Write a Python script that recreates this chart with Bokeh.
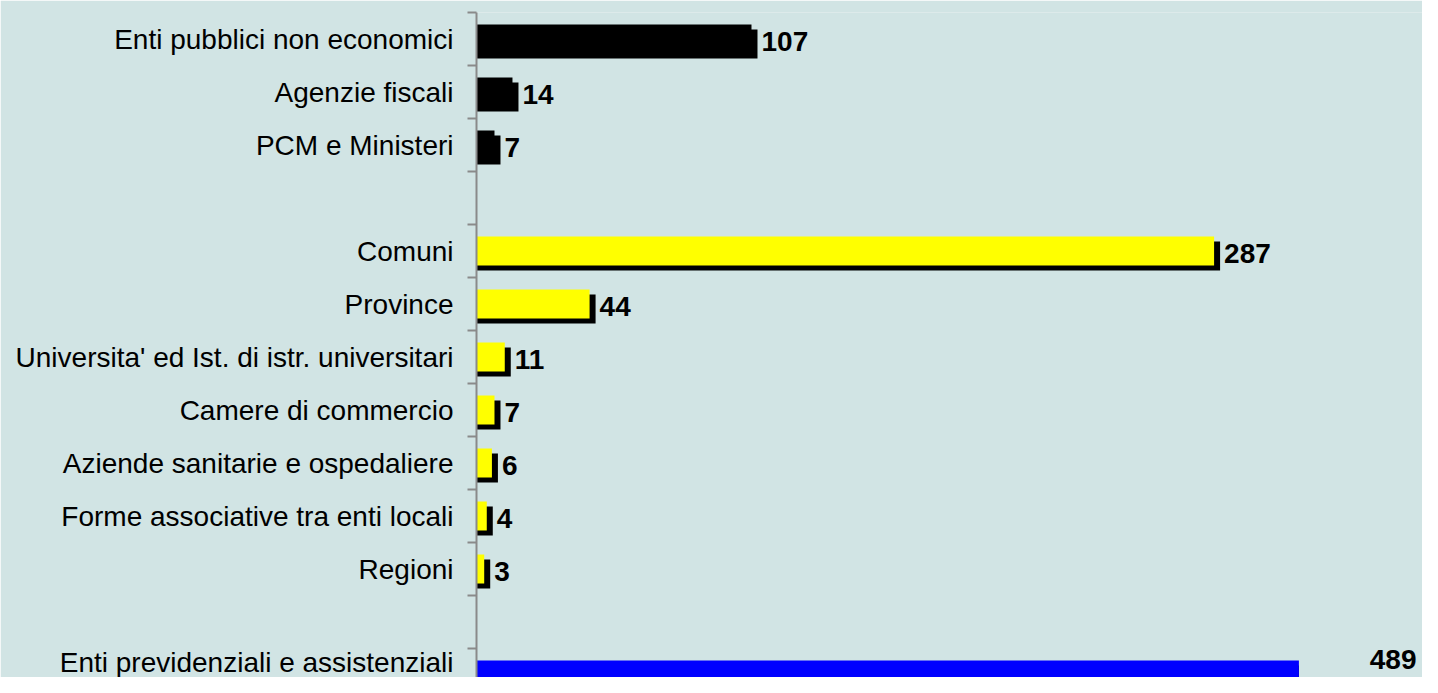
from bokeh.plotting import figure
from bokeh.models import Range1d, FixedTicker, ColumnDataSource
from bokeh.embed import file_html
from bokeh.resources import INLINE
from bokeh.core.properties import value

# ---------------- data ----------------
categories = [
    "Enti pubblici non economici",
    "Agenzie fiscali",
    "PCM e Ministeri",
    "",
    "Comuni",
    "Province",
    "Universita' ed Ist. di istr. universitari",
    "Camere di commercio",
    "Aziende sanitarie e ospedaliere",
    "Forme associative tra enti locali",
    "Regioni",
    "",
    "Enti previdenziali e assistenziali",
]
values = [107, 14, 7, None, 287, 44, 11, 7, 6, 4, 3, None, 489]
groups = ["stato", "stato", "stato", None,
          "locale", "locale", "locale", "locale", "locale", "locale", "locale", None,
          "previdenza"]
group_colors = {"stato": "#000000", "locale": "#ffff00", "previdenza": "#0000ff"}
AXIS_MAX = 320  # value axis is cut at this value

# ---------------- layout / style ----------------
W, H = 1422, 677
FRAME_LEFT, FRAME_TOP = 476, 12
ROW_PX = 53
PX_PER_UNIT = 2.57
BAR_FRAC = 29 / ROW_PX
SHADOW_DX_PX, SHADOW_DY_PX = 6, 5
BG = "#d1e4e4"
FONT = "Liberation Sans"
FSIZE = "28px"

x_end = (W - FRAME_LEFT) / PX_PER_UNIT
rows_visible = (H - FRAME_TOP) / ROW_PX
n = len(categories)

p = figure(width=W, height=H, output_backend="svg", toolbar_location=None,
           x_range=Range1d(0, x_end),
           y_range=Range1d(start=-0.5 + rows_visible, end=-0.5),
           x_axis_location=None, min_border_left=FRAME_LEFT, min_border_top=FRAME_TOP,
           min_border_bottom=0, min_border_right=0)
p.background_fill_color = BG
p.border_fill_color = BG
p.outline_line_color = None
p.xgrid.visible = False
p.ygrid.visible = False

# ---------------- bars ----------------
ys, fronts, shadows, cols = [], [], [], []
for i, (v, g) in enumerate(zip(values, groups)):
    if v is None:
        continue
    ys.append(i)
    fronts.append(min(v, AXIS_MAX))
    shadows.append(min(v + SHADOW_DX_PX / PX_PER_UNIT, AXIS_MAX))
    cols.append(group_colors[g])

src = ColumnDataSource(dict(
    y=ys, front=fronts, shadow=shadows, color=cols,
    ysh=[y + SHADOW_DY_PX / ROW_PX for y in ys],
))

p.hbar(y="ysh", left=0, right="shadow", height=BAR_FRAC, source=src,
       fill_color="#000000", line_color=None)
p.hbar(y="y", left=0, right="front", height=BAR_FRAC, source=src,
       fill_color="color", line_color=None)

# value labels
vals = [values[y] for y in ys]
in_v = [(y, v) for y, v in zip(ys, vals) if v <= AXIS_MAX]
out_v = [(y, v) for y, v in zip(ys, vals) if v > AXIS_MAX]
p.text(x=[v for _, v in in_v], y=[y for y, _ in in_v], text=[str(v) for _, v in in_v],
       x_offset=SHADOW_DX_PX + 4, y_offset=2, text_align="left", text_baseline="alphabetic",
       text_font=value(FONT), text_font_size=FSIZE, text_font_style="bold", text_color="#000000")
p.text(x=[x_end] * len(out_v), y=[y for y, _ in out_v], text=[str(v) for _, v in out_v],
       x_offset=-6, y_offset=-16, text_align="right", text_baseline="alphabetic",
       text_font=value(FONT), text_font_size=FSIZE, text_font_style="bold", text_color="#000000")

# ---------------- category axis ----------------
ax = p.yaxis[0]
ax.ticker = FixedTicker(ticks=list(range(n)), minor_ticks=[i - 0.5 for i in range(n + 1)])
ax.major_label_overrides = {i: c for i, c in enumerate(categories)}
ax.major_tick_out = 0
ax.major_tick_in = 0
ax.minor_tick_out = 9
ax.minor_tick_in = 0
ax.minor_tick_line_color = "#8a8a8a"
ax.minor_tick_line_width = 2
ax.axis_line_color = "#8a8a8a"
ax.axis_line_width = 2
ax.major_label_standoff = 14
ax.major_label_text_font = FONT
ax.major_label_text_font_size = FSIZE
ax.major_label_text_color = "#000000"

open("out.html", "w").write(file_html(p, INLINE))
